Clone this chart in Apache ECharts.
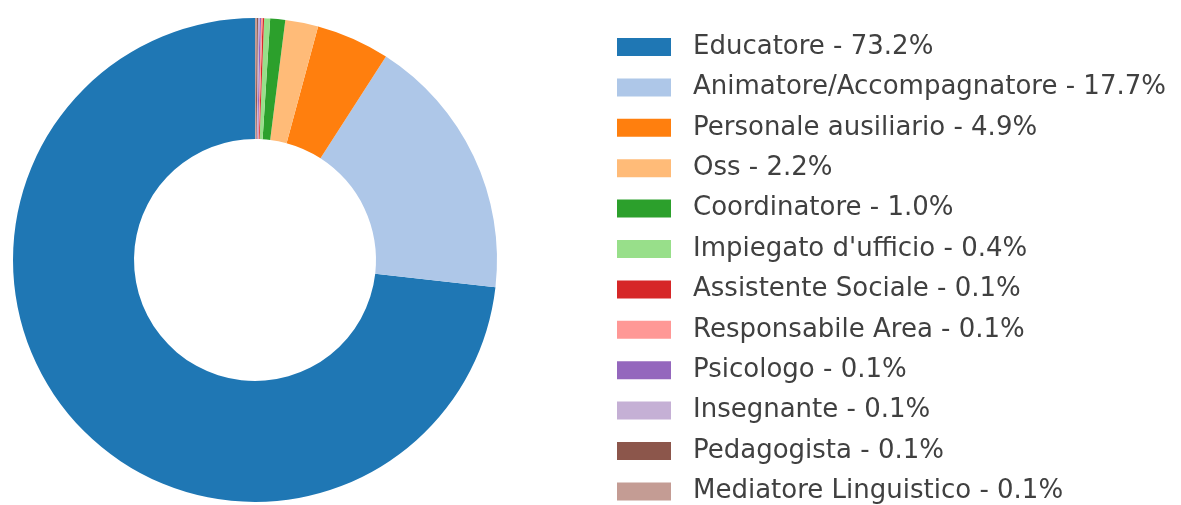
<!DOCTYPE html>
<html>
<head>
<meta charset="utf-8">
<script src="https://cdn.jsdelivr.net/npm/echarts@6/dist/echarts.min.js"></script>
<style>
  html, body { margin: 0; padding: 0; background: #fff; }
  #chart { width: 1181px; height: 505px; }
</style>
</head>
<body>
<div id="chart"></div>
<script>
const roles = ['Educatore', 'Animatore/Accompagnatore', 'Personale ausiliario', 'Oss',
  'Coordinatore', "Impiegato d'ufficio", 'Assistente Sociale', 'Responsabile Area',
  'Psicologo', 'Insegnante', 'Pedagogista', 'Mediatore Linguistico'];
const shares = [73.2, 17.7, 4.9, 2.2, 1.0, 0.4, 0.1, 0.1, 0.1, 0.1, 0.1, 0.1];
const colors = ['#1f77b4', '#aec7e8', '#ff7f0e', '#ffbb78', '#2ca02c', '#98df8a',
  '#d62728', '#ff9896', '#9467bd', '#c5b0d5', '#8c564b', '#c49c94'];

const lookup = {};
roles.forEach((r, i) => { lookup[r] = shares[i]; });

const chart = echarts.init(document.getElementById('chart'));
chart.setOption({
  animation: false,
  color: colors,
  legend: {
    orient: 'vertical',
    left: 612,
    top: 29,
    height: 600,
    icon: 'rect',
    itemWidth: 54,
    itemHeight: 18,
    itemGap: 14.4,
    selectedMode: false,
    formatter: name => name + ' - ' + lookup[name].toFixed(1) + '%',
    textStyle: {
      fontFamily: 'DejaVu Sans',
      fontSize: 26,
      lineHeight: 26,
      color: '#404040',
      padding: [0, 0, 0, 17]
    }
  },
  series: [{
    type: 'pie',
    center: [255, 260],
    radius: [121, 242],
    startAngle: 90,
    clockwise: false,
    avoidLabelOverlap: false,
    label: { show: false },
    labelLine: { show: false },
    emphasis: { disabled: true },
    itemStyle: { borderWidth: 0 },
    data: roles.map((r, i) => ({ name: r, value: shares[i] }))
  }]
});
</script>
</body>
</html>
